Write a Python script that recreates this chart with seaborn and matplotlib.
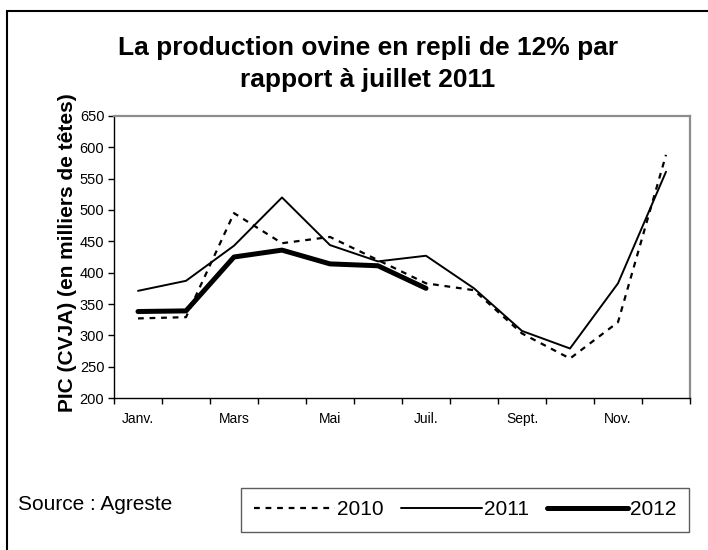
import matplotlib
matplotlib.use("Agg")
import matplotlib.pyplot as plt
import matplotlib.patches as mpatches
import pandas as pd
import seaborn as sns

MONTHS = ["Janv.", "Févr.", "Mars", "Avr.", "Mai", "Juin",
          "Juil.", "Août", "Sept.", "Oct.", "Nov.", "Déc."]
TICK_LABELS = ["Janv.", "", "Mars", "", "Mai", "", "Juil.", "", "Sept.", "", "Nov.", ""]

PROD_2010 = [327, 329, 495, 447, 457, 420, 383, 372, 303, 263, 321, 588]
PROD_2011 = [371, 387, 443, 520, 444, 418, 427, 375, 307, 279, 383, 561]
PROD_2012 = [338, 339, 425, 436, 414, 411, 375]

sns.set_theme(style="white")
plt.rcParams["font.family"] = ["Liberation Sans", "DejaVu Sans"]
plt.rcParams["text.color"] = "black"
plt.rcParams["axes.labelcolor"] = "black"
plt.rcParams["xtick.color"] = "black"
plt.rcParams["ytick.color"] = "black"

W, H = 708, 550
fig = plt.figure(figsize=(W / 100, H / 100), dpi=100)
ax = fig.add_axes([114 / W, 1 - 398 / H, (690 - 114) / W, (398 - 116) / H])

df10 = pd.DataFrame({"x": range(len(PROD_2010)), "v": PROD_2010})
df11 = pd.DataFrame({"x": range(len(PROD_2011)), "v": PROD_2011})
df12 = pd.DataFrame({"x": range(len(PROD_2012)), "v": PROD_2012})

sns.lineplot(data=df10, x="x", y="v", ax=ax, color="black", linewidth=1.6,
             linestyle=(0, (2.6, 2.6)), label="2010")
sns.lineplot(data=df11, x="x", y="v", ax=ax, color="black", linewidth=1.4,
             label="2011")
sns.lineplot(data=df12, x="x", y="v", ax=ax, color="black", linewidth=3.6,
             label="2012")

ax.set_xlim(-0.5, len(MONTHS) - 0.5)
ax.set_ylim(200, 650)
ax.set_yticks(range(200, 651, 50))
ax.set_xticks(range(len(MONTHS)))
ax.set_xticklabels(TICK_LABELS)
ax.set_xticks([i - 0.5 for i in range(len(MONTHS) + 1)], minor=True)
ax.tick_params(axis="x", which="major", length=0, pad=10, labelsize=10)
ax.tick_params(axis="x", which="minor", length=4, width=1, direction="out",
               color="black", bottom=True)
ax.tick_params(axis="y", length=4, width=1, direction="out", color="black",
               left=True, labelsize=10.5, pad=3)
ax.set_xlabel("")
ax.set_ylabel("PIC (CVJA) (en milliers de têtes)", fontsize=15, fontweight="bold")
ax.yaxis.set_label_coords((77 - 114) / (690 - 114), 1 - (253 - 116) / (398 - 116))

for side in ["left", "bottom"]:
    ax.spines[side].set_color("black")
    ax.spines[side].set_linewidth(1.0)
for side in ["top", "right"]:
    ax.spines[side].set_color("#8c8c8c")
    ax.spines[side].set_linewidth(1.6)

fig.text(368 / W, 1 - 64 / H, "La production ovine en repli de 12% par\nrapport à juillet 2011",
         ha="center", va="center", fontsize=19, fontweight="bold", linespacing=1.42)

fig.text(18 / W, 1 - 505 / H, "Source : Agreste", ha="left", va="center", fontsize=15)

leg = ax.legend(loc="center", bbox_to_anchor=(241 / W, 1 - 536 / H, (689 - 241) / W, (536 - 483) / H),
                bbox_transform=fig.transFigure, ncol=3, frameon=True, fancybox=False,
                fontsize=15, handlelength=3.9, handletextpad=0.1, columnspacing=0.5,
                borderaxespad=0, mode="expand", borderpad=0.6)
leg.get_frame().set_edgecolor("#333333")
leg.get_frame().set_linewidth(1.0)

frame = mpatches.Rectangle((7 / W, -0.5), 2, 1.5 - 11 / H, transform=fig.transFigure,
                           fill=False, edgecolor="black", linewidth=1.5)
fig.patches.append(frame)

fig.savefig("out.png", dpi=100)
